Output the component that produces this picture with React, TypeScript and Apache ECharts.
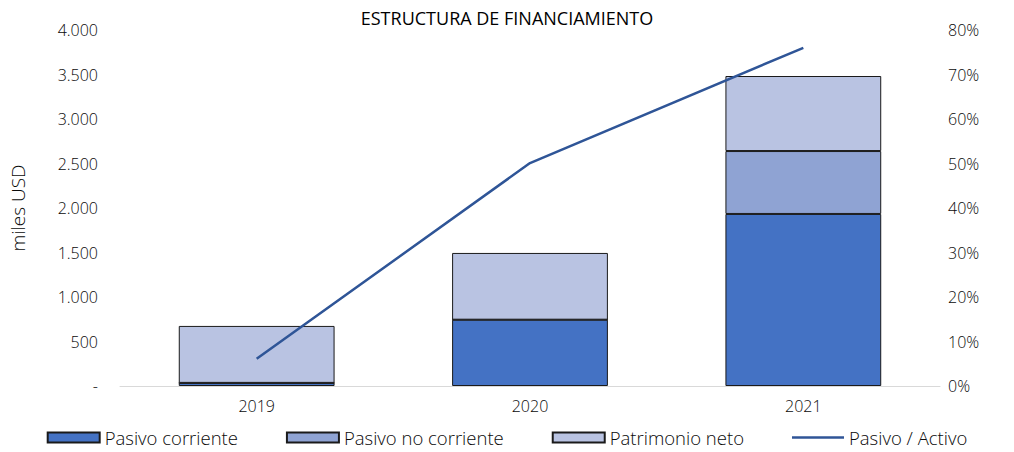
import React, { useEffect, useRef } from "react";
import * as echarts from "echarts";

const categories = ["2019", "2020", "2021"];
const pasivoCorriente = [35, 745, 1933];
const pasivoNoCorriente = [0, 0, 707];
const patrimonioNeto = [640, 750, 843];
const pasivoActivo = [6.1, 50.1, 76.0];

const FONT = "Open Sans";
const TXT = "#0a0a0a";

export default function App() {
  const ref = useRef<HTMLDivElement>(null);
  useEffect(() => {
    if (!ref.current) return;
    const chart = echarts.init(ref.current, undefined, { renderer: "svg" });
    const barBorder = { borderColor: "#1a1a1a", borderWidth: 1 };
    chart.setOption({
      animation: false,
      textStyle: { fontFamily: FONT },
      title: {
        text: "ESTRUCTURA DE FINANCIAMIENTO",
        left: "center",
        top: 4,
        textStyle: { fontFamily: FONT, fontSize: 18, fontWeight: "normal", color: "#000" },
      },
      grid: { left: 120, right: 74, top: 30, bottom: 66 },
      legend: {
        bottom: 0,
        left: "center",
        itemWidth: 52,
        itemHeight: 10,
        itemGap: 48,
        textStyle: { fontFamily: FONT, fontSize: 18.5, color: TXT, fontWeight: 300 },
        data: [
          { name: "Pasivo corriente", icon: "rect" },
          { name: "Pasivo no corriente", icon: "rect" },
          { name: "Patrimonio neto", icon: "rect" },
          { name: "Pasivo / Activo", icon: "path://M0,0H52V2.5H0Z" },
        ],
      },
      xAxis: {
        type: "category",
        data: categories,
        axisTick: { show: false },
        axisLine: { lineStyle: { color: "#d9d9d9", width: 1 } },
        axisLabel: { fontFamily: FONT, fontSize: 16, color: TXT, margin: 12, fontWeight: 300 },
      },
      yAxis: [
        {
          type: "value",
          min: 0,
          max: 4000,
          interval: 500,
          name: "miles USD",
          nameLocation: "middle",
          nameGap: 93,
          nameRotate: 90,
          nameTextStyle: { fontFamily: FONT, fontSize: 19, color: TXT, fontWeight: 300 },
          splitLine: { show: false },
          axisLine: { show: false },
          axisTick: { show: false },
          axisLabel: {
            fontFamily: FONT,
            fontSize: 16,
            fontWeight: 300,
            color: TXT,
            margin: 22,
            formatter: (v: number) =>
              v === 0 ? "-" : v.toString().replace(/\B(?=(\d{3})+(?!\d))/g, "."),
          },
        },
        {
          type: "value",
          min: 0,
          max: 80,
          interval: 10,
          splitLine: { show: false },
          axisLine: { show: false },
          axisTick: { show: false },
          axisLabel: {
            fontFamily: FONT,
            fontSize: 16,
            fontWeight: 300,
            color: TXT,
            margin: 8,
            formatter: (v: number) => v + "%",
          },
        },
      ],
      series: [
        {
          name: "Pasivo corriente",
          type: "bar",
          stack: "total",
          barWidth: "57%",
          data: pasivoCorriente,
          itemStyle: { color: "#4472C4", ...barBorder },
        },
        {
          name: "Pasivo no corriente",
          type: "bar",
          stack: "total",
          data: pasivoNoCorriente,
          itemStyle: { color: "#8FA3D3", ...barBorder },
        },
        {
          name: "Patrimonio neto",
          type: "bar",
          stack: "total",
          data: patrimonioNeto,
          itemStyle: { color: "#B9C3E2", ...barBorder },
        },
        {
          name: "Pasivo / Activo",
          type: "line",
          yAxisIndex: 1,
          data: pasivoActivo,
          symbol: "none",
          lineStyle: { color: "#2F5597", width: 2.5 },
          itemStyle: { color: "#2F5597" },
        },
      ],
    });
    return () => chart.dispose();
  }, []);
  return <div ref={ref} style={{ width: 1014, height: 452, position: "absolute", left: 0, top: 0 }} />;
}
